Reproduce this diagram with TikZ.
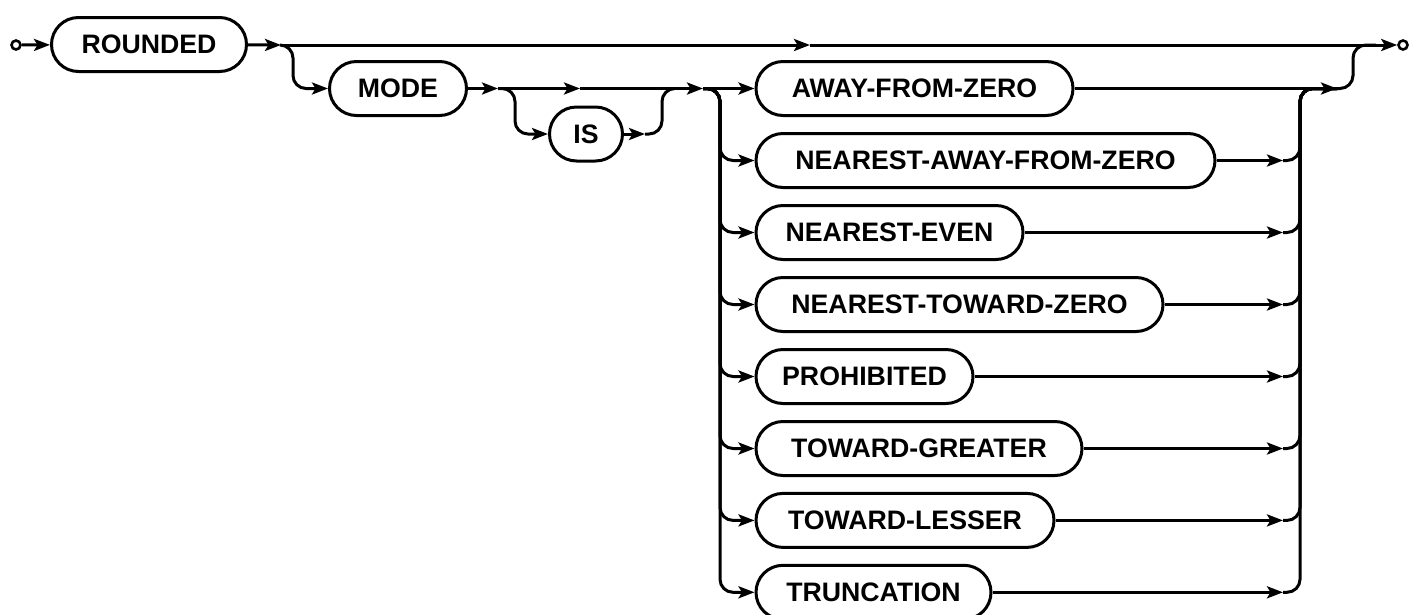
\documentclass[tikz,border=0pt]{standalone}
\usepackage{fontspec}
\setmainfont{Liberation Sans}
\usetikzlibrary{arrows.meta}

\begin{document}
\begin{tikzpicture}[x=1pt, y=-1pt, line width=3pt,
    >={Stealth[length=16pt, width=12pt, inset=3.5pt]},
    keyword/.style={draw, rounded corners=27pt, minimum height=54pt, inner xsep=0pt, inner ysep=0pt,
      font=\fontsize{26.7}{30}\selectfont\bfseries},
    terminal/.style={draw, circle, fill=white, inner sep=0pt, minimum size=9pt, line width=2.6pt},
    track/.style={rounded corners=13pt}]
  \useasboundingbox (0,0) rectangle (1420,614);

  \node[terminal] (start) at (16,45) {};
  \node[keyword, minimum width=195pt] (rounded) at (149,44.5) {ROUNDED};
  \node[keyword, minimum width=137pt] (mode) at (398,88.5) {MODE};
  \node[keyword, minimum width=73pt] (is) at (586,134) {IS};
  \node[keyword, anchor=west, minimum width=317pt] (away) at (754.5,88.5) {AWAY-FROM-ZERO};
  \node[keyword, anchor=west, minimum width=459pt] (nearaway) at (754.5,160.5) {NEAREST-AWAY-FROM-ZERO};
  \node[keyword, anchor=west, minimum width=267pt] (neareven) at (754.5,232.5) {NEAREST-EVEN};
  \node[keyword, anchor=west, minimum width=407pt] (neartoward) at (754.5,304.5) {NEAREST-TOWARD-ZERO};
  \node[keyword, anchor=west, minimum width=217pt] (prohibited) at (754.5,376.5) {PROHIBITED};
  \node[keyword, anchor=west, minimum width=326pt] (greater) at (754.5,448.5) {TOWARD-GREATER};
  \node[keyword, anchor=west, minimum width=298pt] (lesser) at (754.5,520.4) {TOWARD-LESSER};
  \node[keyword, anchor=west, minimum width=235pt] (truncation) at (754.5,592.3) {TRUNCATION};
  \node[terminal] (stop) at (1403,45) {};

  \coordinate (j1) at (281,45);
  \coordinate (m0) at (810,45);
  \coordinate (m3) at (1376,45);
  \coordinate (j2) at (498,88.5);
  \coordinate (m1) at (580,88.5);
  \coordinate (m2) at (645,134);
  \coordinate (j3) at (675,88.5);
  \coordinate (j4) at (703,88.5);
  \coordinate (j5) at (1337,88.5);
  \coordinate (rx) at (1283,0);

  \draw[->] (start) -- (rounded);
  \draw[->] (rounded) -- (j1);
  \draw[->] (j1) -- (m0);
  \draw[->] (m0) -- (stop);
  \draw[->, track] (j1) -- ++(12,0) |- (mode);
  \draw[->] (mode) -- (j2);
  \draw[->] (j2) -- (m1);
  \draw (m1) -- (j3);
  \draw[->, track] (j2) -- ++(17,0) |- (is);
  \draw[->] (is) -- (m2);
  \draw[track] (m2) -- ++(17,0) |- (j3);
  \draw[->] (j3) -- (j4);

  \draw[->] (j4) -- (away);
  \draw[->, track] (j4) -- ++(17,0) |- (nearaway);
  \draw[->, track] (j4) -- ++(17,0) |- (neareven);
  \draw[->, track] (j4) -- ++(17,0) |- (neartoward);
  \draw[->, track] (j4) -- ++(17,0) |- (prohibited);
  \draw[->, track] (j4) -- ++(17,0) |- (greater);
  \draw[->, track] (j4) -- ++(17,0) |- (lesser);
  \draw[->, track] (j4) -- ++(17,0) |- (truncation);

  \draw[->] (away) -- (j5);
  \draw[->] (nearaway) -- (nearaway -| rx);
  \draw[->] (neareven) -- (neareven -| rx);
  \draw[->] (neartoward) -- (neartoward -| rx);
  \draw[->] (prohibited) -- (prohibited -| rx);
  \draw[->] (greater) -- (greater -| rx);
  \draw[->] (lesser) -- (lesser -| rx);
  \draw[->] (truncation) -- (truncation -| rx);
  \draw[track] (nearaway -| rx) -- ++(17,0) |- (j5);
  \draw[track] (neareven -| rx) -- ++(17,0) |- (j5);
  \draw[track] (neartoward -| rx) -- ++(17,0) |- (j5);
  \draw[track] (prohibited -| rx) -- ++(17,0) |- (j5);
  \draw[track] (greater -| rx) -- ++(17,0) |- (j5);
  \draw[track] (lesser -| rx) -- ++(17,0) |- (j5);
  \draw[track] (truncation -| rx) -- ++(17,0) |- (j5);
  \draw[track] (j5) -- ++(16,0) |- (m3);
\end{tikzpicture}
\end{document}
